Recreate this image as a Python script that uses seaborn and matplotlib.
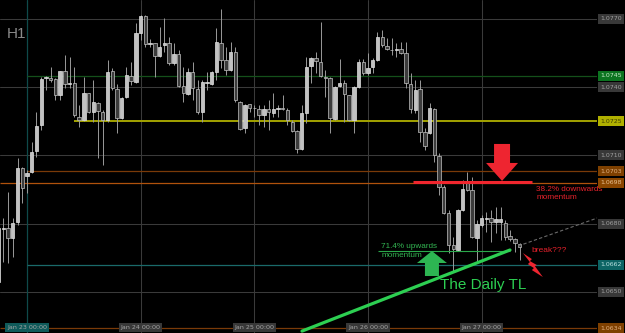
import numpy as np
import pandas as pd
import matplotlib
matplotlib.use("Agg")
import matplotlib.pyplot as plt
import matplotlib.transforms as mtransforms
from matplotlib.patches import Polygon
import seaborn as sns

# ---------------- data (EURUSD H1, hours from Jan 23 00:00) ----------------
hours = list(range(-6, 105))
opens = [
    1.06544, 1.06777, 1.06781, 1.06737, 1.06808, 1.07045, 1.07010, 1.07027, 1.07120, 1.07234,
    1.07441, 1.07441, 1.07436, 1.07366, 1.07471, 1.07414, 1.07419, 1.07269, 1.07256, 1.07375,
    1.07291, 1.07331, 1.07291, 1.07256, 1.07471, 1.07392, 1.07265, 1.07357, 1.07449, 1.07423,
    1.07638, 1.07713, 1.07590, 1.07595, 1.07537, 1.07586, 1.07595, 1.07507, 1.07546, 1.07405,
    1.07370, 1.07467, 1.07392, 1.07291, 1.07419, 1.07414, 1.07467, 1.07595, 1.07520, 1.07476,
    1.07555, 1.07335, 1.07221, 1.07326, 1.07309, 1.07304, 1.07278, 1.07304, 1.07287, 1.07304,
    1.07309, 1.07300, 1.07247, 1.07208, 1.07128, 1.07287, 1.07493, 1.07529, 1.07511, 1.07445,
    1.07441, 1.07260, 1.07405, 1.07419, 1.07366, 1.07256, 1.07401, 1.07511, 1.07463, 1.07489,
    1.07520, 1.07621, 1.07581, 1.07564, 1.07564, 1.07568, 1.07551, 1.07414, 1.07300, 1.07392,
    1.07203, 1.07199, 1.07304, 1.07098, 1.06961, 1.06847, 1.06707, 1.06685, 1.06860, 1.06983,
    1.06948, 1.06737, 1.06794, 1.06821, 1.06825, 1.06808, 1.06808, 1.06803, 1.06746, 1.06733,
    1.06711]
highs = [
    1.06794, 1.06825, 1.06940, 1.06825, 1.07089, 1.07049, 1.07036, 1.07159, 1.07291, 1.07445,
    1.07449, 1.07489, 1.07441, 1.07471, 1.07542, 1.07533, 1.07489, 1.07322, 1.07445, 1.07375,
    1.07432, 1.07335, 1.07300, 1.07520, 1.07485, 1.07414, 1.07357, 1.07489, 1.07511, 1.07682,
    1.07718, 1.07718, 1.07612, 1.07595, 1.07665, 1.07704, 1.07621, 1.07595, 1.07564, 1.07489,
    1.07485, 1.07511, 1.07432, 1.07432, 1.07467, 1.07471, 1.07660, 1.07744, 1.07577, 1.07599,
    1.07577, 1.07340, 1.07326, 1.07326, 1.07322, 1.07322, 1.07322, 1.07344, 1.07375, 1.07322,
    1.07366, 1.07309, 1.07256, 1.07212, 1.07322, 1.07533, 1.07533, 1.07555, 1.07687, 1.07476,
    1.07445, 1.07405, 1.07524, 1.07432, 1.07366, 1.07405, 1.07524, 1.07524, 1.07551, 1.07529,
    1.07643, 1.07652, 1.07617, 1.07617, 1.07595, 1.07599, 1.07599, 1.07463, 1.07432, 1.07432,
    1.07221, 1.07331, 1.07309, 1.07111, 1.06970, 1.06860, 1.06742, 1.06865, 1.06992, 1.07027,
    1.07005, 1.06816, 1.06838, 1.06852, 1.06860, 1.06874, 1.06874, 1.06816, 1.06772, 1.06737,
    1.06715]
lows = [
    1.06531, 1.06632, 1.06627, 1.06654, 1.06794, 1.06891, 1.06935, 1.07023, 1.07093, 1.07212,
    1.07388, 1.07423, 1.07344, 1.07344, 1.07397, 1.07397, 1.07269, 1.07225, 1.07252, 1.07287,
    1.07247, 1.07089, 1.07058, 1.07247, 1.07388, 1.07199, 1.07260, 1.07353, 1.07410, 1.07419,
    1.07608, 1.07577, 1.07577, 1.07445, 1.07533, 1.07555, 1.07498, 1.07498, 1.07401, 1.07335,
    1.07366, 1.07344, 1.07282, 1.07247, 1.07388, 1.07410, 1.07432, 1.07485, 1.07454, 1.07471,
    1.07335, 1.07212, 1.07199, 1.07291, 1.07269, 1.07234, 1.07225, 1.07212, 1.07269, 1.07269,
    1.07300, 1.07234, 1.07203, 1.07111, 1.07124, 1.07243, 1.07419, 1.07463, 1.07445, 1.07357,
    1.07199, 1.07256, 1.07401, 1.07247, 1.07252, 1.07199, 1.07397, 1.07454, 1.07454, 1.07463,
    1.07515, 1.07577, 1.07564, 1.07542, 1.07533, 1.07546, 1.07397, 1.07287, 1.07287, 1.07159,
    1.07124, 1.07194, 1.07071, 1.06926, 1.06843, 1.06671, 1.06588, 1.06680, 1.06856, 1.06944,
    1.06737, 1.06632, 1.06786, 1.06764, 1.06720, 1.06759, 1.06729, 1.06729, 1.06724, 1.06676,
    1.06641]
closes = [
    1.06781, 1.06781, 1.06737, 1.06803, 1.07045, 1.06957, 1.07023, 1.07115, 1.07230, 1.07436,
    1.07445, 1.07432, 1.07366, 1.07471, 1.07414, 1.07419, 1.07278, 1.07256, 1.07375, 1.07291,
    1.07335, 1.07296, 1.07256, 1.07467, 1.07397, 1.07265, 1.07353, 1.07454, 1.07427, 1.07638,
    1.07713, 1.07590, 1.07595, 1.07537, 1.07577, 1.07595, 1.07507, 1.07546, 1.07405, 1.07375,
    1.07467, 1.07397, 1.07291, 1.07423, 1.07423, 1.07467, 1.07599, 1.07520, 1.07476, 1.07555,
    1.07344, 1.07216, 1.07322, 1.07309, 1.07307, 1.07278, 1.07304, 1.07291, 1.07304, 1.07309,
    1.07304, 1.07256, 1.07208, 1.07128, 1.07287, 1.07489, 1.07529, 1.07515, 1.07449, 1.07441,
    1.07265, 1.07401, 1.07419, 1.07370, 1.07256, 1.07401, 1.07511, 1.07463, 1.07485, 1.07520,
    1.07621, 1.07586, 1.07568, 1.07562, 1.07566, 1.07551, 1.07419, 1.07304, 1.07388, 1.07203,
    1.07142, 1.07309, 1.07102, 1.06961, 1.06847, 1.06707, 1.06689, 1.06860, 1.06953, 1.06948,
    1.06742, 1.06799, 1.06825, 1.06825, 1.06808, 1.06821, 1.06821, 1.06742, 1.06733, 1.06715,
    1.06698]

day_hours = [0, 24, 48, 72, 96]
day_labels = ["Jan 23 00:00", "Jan 24 00:00", "Jan 25 00:00", "Jan 26 00:00", "Jan 27 00:00"]
grid_prices = [1.0770, 1.0740, 1.0710, 1.0680, 1.0650]
axis_labels = ["1.0770", "1.0745", "1.0740", "1.0725", "1.0710", "1.0703",
               "1.0698", "1.0680", "1.0662", "1.0650", "1.0634"]
axis_label_prices = [1.0770, 1.0745, 1.0740, 1.0725, 1.0710, 1.0703,
                     1.0698, 1.0680, 1.0662, 1.0650, 1.0634]
axis_label_kind = ["grid", "green", "grid", "yellow", "grid", "brown",
                   "orange", "grid", "teal", "grid", "brown"]

# drawn levels: (price, start hour or None for full width, kind)
level_prices = [1.0745, 1.0725, 1.0703, 1.0698, 1.0662, 1.0634]
level_starts = [0, 9.9, 0, None, 0, None]
level_kinds = ["green", "yellow", "brown", "orange", "teal", "brown"]

trend_hours = [58.07, 101.98]
trend_prices = [1.06328, 1.066845]
ext_hours = [103.7, 120.4]
ext_prices = [1.06702, 1.06825]
down_level_hours = [81.5, 106.6]
down_level_price = 1.06983
up_level_hours = [74.1, 102.0]
up_level_price = 1.06680

# ---------------- styling ----------------
sns.set_style("dark", {"axes.facecolor": "black", "figure.facecolor": "black"})
plt.rcParams["font.family"] = ["Liberation Sans", "DejaVu Sans"]

kind_line = {"green": "#14501a", "yellow": "#a3a300", "brown": "#7a3a08",
             "orange": "#b0520c", "teal": "#1a6a6a"}
kind_box = {"grid": "#383838", "green": "#0c7420", "yellow": "#b0b000",
            "brown": "#7e4000", "orange": "#8a4600", "teal": "#0c6464"}
kind_txt = {"grid": "#a0a0a0", "green": "#c8e8c8", "yellow": "#3c3c00",
            "brown": "#e0b080", "orange": "#e8c090", "teal": "#b8e0e0"}

W, H = 625, 333
fig = plt.figure(figsize=(W / 100, H / 100), dpi=100, facecolor="black")
ax = fig.add_axes([0, 0, 597 / W, 1])
ax.set_facecolor("black")
for s in ax.spines.values():
    s.set_visible(False)
ax.set_xticks([])
ax.set_yticks([])
ax.grid(False)

xmin, xmax = -5.70, 120.35
ymin, ymax = 1.063196, 1.077835
ax.set_xlim(xmin, xmax)
ax.set_ylim(ymin, ymax)

# grid
for p in grid_prices:
    ax.axhline(p, color="#3a3a3a", lw=0.75, zorder=1)
for h in day_hours[1:]:
    ax.axvline(h, color="#3a3a3a", lw=0.75, zorder=1)
ax.axvline(day_hours[0], color="#0f4a4a", lw=0.9, zorder=1)

# levels
for p, st, k in zip(level_prices, level_starts, level_kinds):
    lw = 1.4 if k == "yellow" else 0.9
    ax.hlines(p, st if st is not None else xmin, xmax, color=kind_line[k], lw=lw, zorder=2)

# candles
df = pd.DataFrame({"hour": hours, "open": opens, "high": highs, "low": lows, "close": closes})
df["bull"] = df["close"] >= df["open"]
df["bottom"] = df[["open", "close"]].min(axis=1)
df["height"] = (df["close"] - df["open"]).abs().clip(lower=0.000025)
ax.vlines(df["hour"], df["low"], df["high"], color="#9a9a9a", lw=0.7, zorder=3)
bull = df[df["bull"]]
bear = df[~df["bull"]]
ax.bar(bull["hour"], bull["height"], bottom=bull["bottom"], width=0.72,
       color="#c2c2c2", edgecolor="#e2e2e2", linewidth=0.5, zorder=4)
ax.bar(bear["hour"], bear["height"], bottom=bear["bottom"], width=0.72,
       color="#3c3c3c", edgecolor="#c4c4c4", linewidth=0.5, zorder=4)

# annotation lines
sns.lineplot(x=trend_hours, y=trend_prices, ax=ax, color="#2dcf52", lw=2.3,
             estimator=None, zorder=6)
sns.lineplot(x=ext_hours, y=ext_prices, ax=ax, color="#6a6a6a", lw=0.8,
             linestyle=(0, (3, 2)), estimator=None, zorder=5)
ax.hlines(down_level_price, *down_level_hours, color="#f0262e", lw=2.2, zorder=6)
ax.hlines(up_level_price, *up_level_hours, color="#2aa84a", lw=0.8, zorder=5)


def px_poly(x, y, offsets, color):
    tr = mtransforms.IdentityTransform() + mtransforms.ScaledTranslation(x, y, ax.transData)
    poly = Polygon(offsets, closed=True, transform=tr, facecolor=color,
                   edgecolor="none", zorder=7)
    ax.add_artist(poly)


# red down arrow (tip at red level)
px_poly(100.3, 1.06988, [(0, 0), (-16, 18), (-8, 18), (-8, 37), (8, 37), (8, 18), (16, 18)],
        "#ee2530")
# green up arrow
px_poly(85.5, 1.06680, [(0, 0), (-15, -12), (-7, -12), (-7, -25), (7, -25), (7, -12), (15, -12)],
        "#2db552")
# lightning bolt
px_poly(104.7, 1.06671, [(0, 0), (9, -6), (7, -8), (14, -12), (12, -13), (20, -24),
                         (9, -17), (11, -15), (5, -11), (7, -9)], "#ee2530")

# texts
ax.text(74.75, 1.06680, "71.4% upwards\nmomentum", color="#33b552", fontsize=5.9,
        va="center", ha="left", linespacing=1.25, zorder=8)
ax.text(107.5, 1.06933, "38.2% downwards\nmomentum", color="#e8222c", fontsize=5.9,
        va="center", ha="left", linespacing=1.25, zorder=8)
ax.text(106.4, 1.06682, "break???", color="#e8222c", fontsize=6.0,
        va="center", ha="left", zorder=8)
ax.text(87.2, 1.06531, "The Daily TL", color="#2dcf52", fontsize=11,
        va="center", ha="left", zorder=8)
ax.text(7 / 597, 1 - 34 / 333, "H1", color="#8a8a8a", fontsize=11, transform=ax.transAxes,
        va="center", ha="left", zorder=8)

# right price labels
btr = mtransforms.blended_transform_factory(ax.transAxes, ax.transData)
for lab, p, k in zip(axis_labels, axis_label_prices, axis_label_kind):
    ax.text(1 + 3.0 / 597, p, lab, transform=btr, fontsize=4.5, va="center", ha="left",
            color=kind_txt[k], family="DejaVu Sans", clip_on=False, zorder=9,
            bbox=dict(boxstyle="square,pad=0.4", fc=kind_box[k], ec="none"))

# bottom time labels
bt = mtransforms.blended_transform_factory(ax.transData, ax.transAxes)
for i, (h, lab) in enumerate(zip(day_hours, day_labels)):
    ax.text(h, 1 - 327.5 / 333, lab, transform=bt, fontsize=4.6, va="center", ha="center",
            color="#a4a4a4", family="DejaVu Sans", zorder=9,
            bbox=dict(boxstyle="square,pad=0.25", fc="#0f5a5a" if i == 0 else "#383838", ec="none"))

ax.set_xlim(xmin, xmax)
ax.set_ylim(ymin, ymax)
ax.set_xlabel("")
ax.set_ylabel("")
if ax.get_legend() is not None:
    ax.get_legend().remove()
fig.savefig("out.png", dpi=100, facecolor="black")
